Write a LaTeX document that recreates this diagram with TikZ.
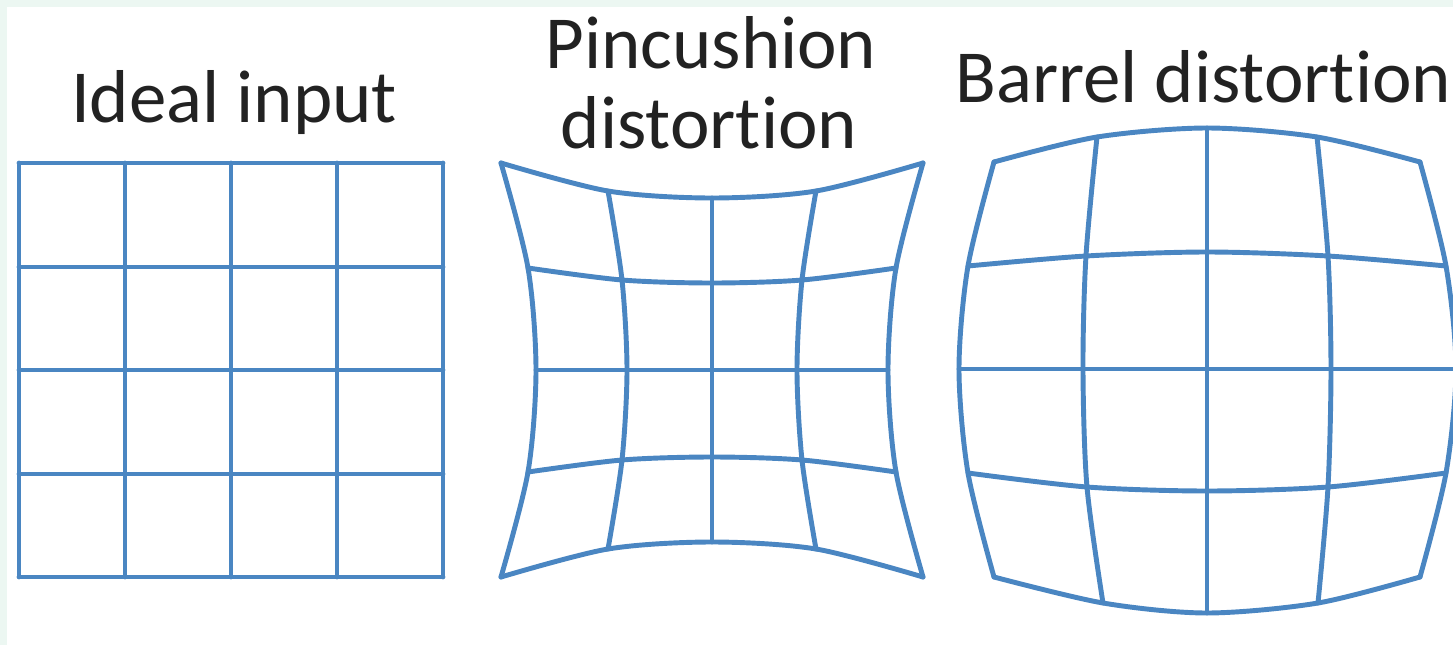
\documentclass[tikz,border=0pt]{standalone}
\usepackage{fontspec}
\setmainfont{Carlito}[Ligatures=NoCommon]
\definecolor{gridblue}{RGB}{74,134,194}
\definecolor{mintbg}{RGB}{236,247,242}
\definecolor{titlegray}{RGB}{34,34,34}
\tikzset{
  gridline/.style={gridblue, line width=1.4pt, line cap=round, line join=round},
  title/.style={font=\fontsize{21.3}{22.8}\selectfont, text=titlegray, inner sep=0pt}
}
\begin{document}
\begin{tikzpicture}[x=0.01cm, y=-0.01cm]
  % Frame and background
  \useasboundingbox (0,0) rectangle (1453,645);
  \fill[mintbg] (0,0) rectangle (1453,645);
  \fill[white] (7,7) rectangle (1453,645);

  % Titles
  \node[title, anchor=base] (idealtitle) at (234,122) {Ideal input};
  \node[title, anchor=base] (pinctitle) at (711,68) {Pincushion};
  \node[title, anchor=base] (pinctitle2) at (709,148) {distortion};
  \node[title, anchor=base west] (barreltitle) at (955,102) {Barrel distortion};

  % Ideal input: regular 4x4 grid
  \foreach \x in {19,125,231,337,443}
    \draw[gridline] (\x,163) -- (\x,577);
  \foreach \y in {163,267,370,474,577}
    \draw[gridline] (19,\y) -- (443,\y);

  % Pincushion distortion: rows
  \draw[gridline] plot[smooth] coordinates {(501,163) (608,191) (712,198) (816,191) (923,163)};
  \draw[gridline] plot[smooth] coordinates {(528,268) (622,280) (712,283) (802,280) (896,268)};
  \draw[gridline] (536,370) -- (888,370);
  \draw[gridline] plot[smooth] coordinates {(528,472) (622,460) (712,457) (802,460) (896,472)};
  \draw[gridline] plot[smooth] coordinates {(501,577) (608,549) (712,542) (816,549) (923,577)};
  % Pincushion distortion: columns
  \draw[gridline] plot[smooth] coordinates {(501,163) (528,268) (536,370) (528,472) (501,577)};
  \draw[gridline] plot[smooth] coordinates {(608,191) (622,280) (627,370) (622,460) (608,549)};
  \draw[gridline] (712,198) -- (712,542);
  \draw[gridline] plot[smooth] coordinates {(816,191) (802,280) (797,370) (802,460) (816,549)};
  \draw[gridline] plot[smooth] coordinates {(923,163) (896,268) (888,370) (896,472) (923,577)};

  % Barrel distortion: rows
  \draw[gridline] plot[smooth] coordinates {(994,162) (1097,137) (1207,128) (1317,137) (1420,162)};
  \draw[gridline] plot[smooth] coordinates {(968,266) (1086,256) (1207,252) (1328,256) (1446,266)};
  \draw[gridline] (959,369) -- (1456,369);
  \draw[gridline] plot[smooth] coordinates {(968,473) (1087,487) (1207,491) (1328,487) (1446,473)};
  \draw[gridline] plot[smooth] coordinates {(994,577) (1103,603) (1207,613) (1318,603) (1420,577)};
  % Barrel distortion: columns
  \draw[gridline] plot[smooth] coordinates {(994,162) (968,266) (959,369) (968,473) (994,577)};
  \draw[gridline] plot[smooth] coordinates {(1097,137) (1086,256) (1083,369) (1087,487) (1103,603)};
  \draw[gridline] (1207,128) -- (1207,613);
  \draw[gridline] plot[smooth] coordinates {(1317,137) (1328,256) (1331,369) (1328,487) (1318,603)};
  \draw[gridline] plot[smooth] coordinates {(1420,162) (1446,266) (1456,369) (1446,473) (1420,577)};
\end{tikzpicture}
\end{document}
